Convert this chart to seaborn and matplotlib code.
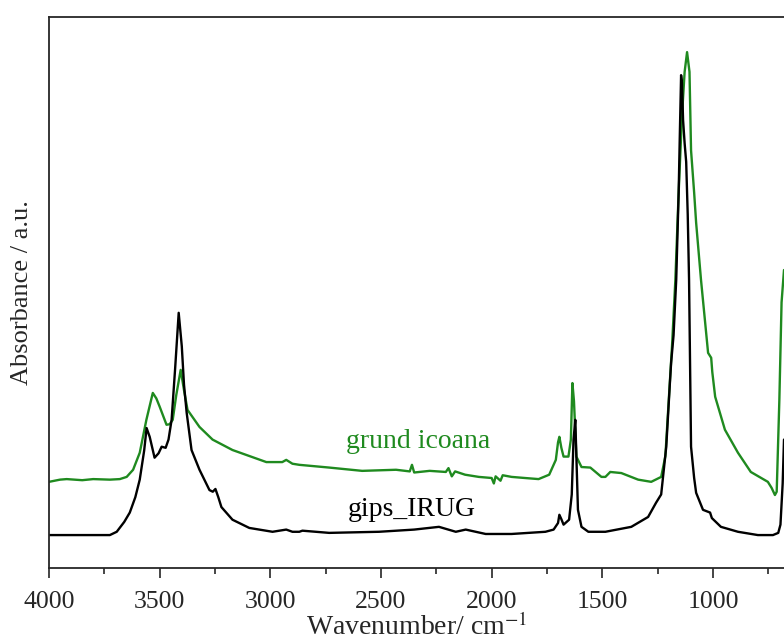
import numpy as np
import pandas as pd
import seaborn as sns
import matplotlib.pyplot as plt

# FTIR spectra (wavenumber in cm-1, absorbance in a.u.)
wn_gips = [4000, 3900, 3800, 3725, 3694, 3660, 3635, 3610, 3590, 3570, 3559, 3545,
           3523, 3505, 3491, 3473, 3460, 3446, 3430, 3414, 3400, 3390, 3378, 3356,
           3320, 3275, 3260, 3248, 3235, 3221, 3171, 3095, 2990, 2928, 2900, 2869,
           2855, 2734, 2509, 2350, 2238, 2162, 2117, 2027, 1910, 1757, 1720, 1700,
           1694, 1685, 1675, 1650, 1638, 1630, 1622, 1610, 1594, 1563, 1486, 1369,
           1293, 1257, 1234, 1211, 1195, 1189, 1178, 1166, 1155, 1150, 1144, 1140,
           1135, 1128, 1121, 1114, 1108, 1099, 1085, 1076, 1045, 1013, 1005, 964,
           887, 797, 729, 705, 695, 685, 679]
ab_gips = [0.056, 0.056, 0.056, 0.056, 0.062, 0.080, 0.097, 0.125, 0.157, 0.210, 0.251, 0.235,
           0.197, 0.205, 0.217, 0.215, 0.230, 0.266, 0.360, 0.461, 0.400, 0.330, 0.279, 0.211,
           0.175, 0.138, 0.135, 0.140, 0.125, 0.107, 0.084, 0.069, 0.062, 0.066, 0.062, 0.062,
           0.064, 0.060, 0.062, 0.066, 0.071, 0.062, 0.066, 0.058, 0.058, 0.062, 0.066, 0.078,
           0.093, 0.085, 0.075, 0.084, 0.130, 0.230, 0.266, 0.102, 0.071, 0.062, 0.062, 0.071,
           0.089, 0.115, 0.130, 0.217, 0.330, 0.370, 0.420, 0.521, 0.680, 0.780, 0.894, 0.880,
           0.812, 0.770, 0.736, 0.640, 0.521, 0.217, 0.160, 0.133, 0.102, 0.097, 0.087, 0.071,
           0.062, 0.056, 0.056, 0.060, 0.075, 0.150, 0.230]

wn_grund = [4000, 3950, 3920, 3850, 3800, 3725, 3680, 3649, 3620, 3590, 3560, 3531,
            3515, 3500, 3469, 3455, 3441, 3425, 3405, 3390, 3374, 3320, 3261, 3171,
            3018, 2946, 2928, 2900, 2869, 2734, 2585, 2432, 2370, 2360, 2350, 2280,
            2207, 2195, 2180, 2165, 2120, 2058, 2000, 1990, 1982, 1960, 1950, 1910,
            1850, 1788, 1740, 1710, 1700, 1694, 1685, 1675, 1653, 1642, 1635, 1628,
            1617, 1594, 1554, 1504, 1486, 1464, 1414, 1338, 1279, 1234, 1215, 1200,
            1185, 1170, 1155, 1140, 1128, 1117, 1106, 1099, 1085, 1076, 1054, 1022,
            1008, 1003, 990, 946, 887, 829, 752, 735, 720, 712, 700, 690, 679]
ab_grund = [0.153, 0.157, 0.158, 0.156, 0.158, 0.157, 0.158, 0.162, 0.175, 0.206, 0.266, 0.315,
            0.305, 0.290, 0.257, 0.258, 0.266, 0.311, 0.357, 0.320, 0.284, 0.253, 0.230, 0.211,
            0.189, 0.189, 0.193, 0.186, 0.184, 0.179, 0.173, 0.175, 0.172, 0.184, 0.170, 0.173,
            0.171, 0.178, 0.163, 0.172, 0.166, 0.162, 0.160, 0.150, 0.163, 0.155, 0.165, 0.162,
            0.160, 0.158, 0.166, 0.193, 0.225, 0.235, 0.215, 0.199, 0.199, 0.230, 0.333, 0.300,
            0.199, 0.180, 0.179, 0.162, 0.162, 0.171, 0.169, 0.157, 0.153, 0.162, 0.200, 0.300,
            0.400, 0.520, 0.680, 0.820, 0.900, 0.936, 0.900, 0.757, 0.680, 0.625, 0.521, 0.388,
            0.379, 0.353, 0.308, 0.248, 0.206, 0.171, 0.153, 0.142, 0.129, 0.135, 0.302, 0.480, 0.539]

green = '#1f8a1f'

sns.set_style('ticks')
plt.rcParams['font.family'] = ['Liberation Serif', 'DejaVu Serif']
plt.rcParams['mathtext.fontset'] = 'stix'

fig = plt.figure(figsize=(7.84, 6.43), dpi=100)
ax = fig.add_axes([49 / 784, 75 / 643, 735 / 784, 551 / 643])

df_grund = pd.DataFrame({'wn': wn_grund, 'ab': ab_grund})
df_gips = pd.DataFrame({'wn': wn_gips, 'ab': ab_gips})
sns.lineplot(data=df_grund, x='wn', y='ab', sort=False, color=green, lw=1.7, ax=ax)
sns.lineplot(data=df_gips, x='wn', y='ab', sort=False, color='black', lw=1.7, ax=ax)

ax.set_xlim(4000, 679)
ax.set_ylim(-0.004, 1)
ax.set_xticks([4000, 3500, 3000, 2500, 2000, 1500, 1000])
ax.set_xticks(np.arange(3750, 679, -500), minor=True)
ax.set_yticks([])
ax.tick_params(axis='x', which='major', direction='out', length=7.5, width=1.2,
               labelsize=18.5, pad=9)
ax.tick_params(axis='x', which='minor', direction='out', length=4.5, width=1.2)
for side in ['left', 'bottom', 'top']:
    ax.spines[side].set_linewidth(1.3)
ax.spines['right'].set_visible(False)

ax.set_xlabel('Wavenumber/ cm$^{-1}$', fontsize=20, labelpad=0)
ax.set_ylabel('Absorbance / a.u.', fontsize=19)
ax.yaxis.set_label_coords(-0.022, 0.5)

ax.text(2333, 0.226, 'grund icoana', color=green, fontsize=20, ha='center', va='center')
ax.text(2360, 0.102, 'gips_IRUG', color='black', fontsize=20, ha='center', va='center')

fig.savefig('out.png', dpi=100)
